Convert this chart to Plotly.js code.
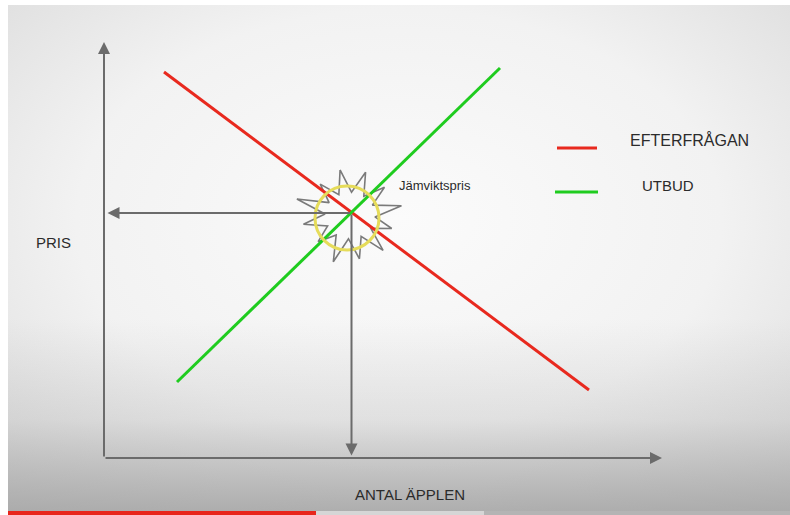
<!DOCTYPE html>
<html>
<head>
<meta charset="utf-8">
<script src="https://cdn.plot.ly/plotly-3.0.1.min.js"></script>
<style>html,body{margin:0;padding:0;background:#fff;}#chart{width:790px;height:515px;}</style>
</head>
<body>
<div id="chart"></div>
<script>
// ---- data (chart units: quantity on x, price on y) ----
var demandQty = [1.2, 9.7];
var demandPrice = [7.72, 1.36];
var supplyQty = [1.46, 7.92];
var supplyPrice = [1.52, 7.8];
var eqQty = 4.95;
var eqPrice = 4.9;
var axisMaxQty = 11.16;
var axisMaxPrice = 8.32;
var seriesNames = ["EFTERFRÅGAN", "UTBUD"];
var xTitle = "ANTAL ÄPPLEN";
var yTitle = "PRIS";
var eqLabel = "Jämviktspris";

var RED = "#e8291e", GREEN = "#1fcc1f", AX = "#6b6b6b", TXT = "#2b2b2b";

// starburst outline around the equilibrium (decorative)
var starR = [1.0, 0.9, 1.12, 0.95, 0.85, 1.05, 0.95, 1.0, 0.88, 1.05, 0.92, 0.98];
var starX = [], starY = [];
var cx = 4.92, cy = 4.85, n = starR.length;
for (var i = 0; i <= 2 * n; i++) {
  var k = i % (2 * n);
  var ang = Math.PI / 2 + 0.2 + k * Math.PI / n;
  var r = (k % 2 === 0) ? starR[k / 2] : 0.5;
  starX.push(cx + r * Math.cos(ang));
  starY.push(cy + r * Math.sin(ang) * 0.93);
}

var traces = [
  {x: starX, y: starY, mode: "lines", line: {color: "#7a7a7a", width: 1.6}, hoverinfo: "skip", showlegend: false},
  {x: demandQty, y: demandPrice, mode: "lines", name: seriesNames[0], line: {color: RED, width: 3}, showlegend: false},
  {x: supplyQty, y: supplyPrice, mode: "lines", name: seriesNames[1], line: {color: GREEN, width: 3}, showlegend: false}
];

function arrow(hx, hy, tx, ty) {
  return {x: hx, y: hy, ax: tx, ay: ty, xref: "x", yref: "y", axref: "x", ayref: "y",
          text: "", showarrow: true, arrowhead: 2, arrowsize: 1.2, arrowwidth: 2, arrowcolor: AX};
}
function label(t, x, y, xanchor, size) {
  return {x: x, y: y, xref: "x", yref: "y", text: t, showarrow: false, xanchor: xanchor, yanchor: "middle",
          font: {family: "Liberation Sans, Arial, sans-serif", size: size, color: TXT}};
}

var bgSvg = '<svg xmlns="http://www.w3.org/2000/svg" width="790" height="515">' +
  '<defs><radialGradient id="r" cx="0.5" cy="0.42" r="0.75">' +
  '<stop offset="0" stop-color="#fbfbfb"/><stop offset="0.55" stop-color="#f2f2f2"/><stop offset="1" stop-color="#dadada"/></radialGradient>' +
  '<linearGradient id="b" x1="0" y1="0" x2="0" y2="1">' +
  '<stop offset="0" stop-color="#a0a0a0" stop-opacity="0"/><stop offset="0.62" stop-color="#a0a0a0" stop-opacity="0"/>' +
  '<stop offset="0.82" stop-color="#a0a0a0" stop-opacity="0.22"/>' +
  '<stop offset="1" stop-color="#a0a0a0" stop-opacity="0.8"/></linearGradient></defs>' +
  '<rect width="790" height="515" fill="#ffffff"/>' +
  '<rect x="8" y="5" width="782" height="510" fill="url(#r)"/>' +
  '<rect x="8" y="5" width="782" height="506" fill="url(#b)"/>' +
  '</svg>';

var layout = {
  width: 790, height: 515,
  margin: {l: 0, r: 0, t: 0, b: 0},
  paper_bgcolor: "#ffffff",
  plot_bgcolor: "rgba(0,0,0,0)",
  showlegend: false,
  xaxis: {range: [-2.08, 13.72], visible: false, fixedrange: true},
  yaxis: {range: [-1.14, 9.16], visible: false, fixedrange: true},
  images: [{source: "data:image/svg+xml;charset=utf-8," + encodeURIComponent(bgSvg),
            xref: "paper", yref: "paper", x: 0, y: 1, sizex: 1, sizey: 1,
            sizing: "stretch", xanchor: "left", yanchor: "top", layer: "below"}],
  shapes: [
    {type: "circle", xref: "x", yref: "y", x0: 4.22, x1: 5.5, y0: 4.16, y1: 5.44,
     line: {color: "#e6dc5a", width: 3}},
    {type: "line", xref: "x", yref: "y", x0: 9.06, x1: 9.86, y0: 6.2, y1: 6.2, line: {color: RED, width: 3}},
    {type: "line", xref: "x", yref: "y", x0: 9.02, x1: 9.88, y0: 5.32, y1: 5.32, line: {color: GREEN, width: 3}},
    {type: "rect", xref: "paper", yref: "paper", x0: 8/790, x1: 316/790, y0: 0, y1: 4/515, fillcolor: "#e8261c", line: {width: 0}},
    {type: "rect", xref: "paper", yref: "paper", x0: 316/790, x1: 484/790, y0: 0, y1: 4/515, fillcolor: "#d6d6d6", line: {width: 0}},
    {type: "rect", xref: "paper", yref: "paper", x0: 484/790, x1: 1, y0: 0, y1: 4/515, fillcolor: "#b4b4b4", line: {width: 0}}
  ],
  annotations: [
    arrow(0, axisMaxPrice, 0, 0),
    arrow(axisMaxQty, 0, 0, 0),
    arrow(0.07, eqPrice, eqQty, eqPrice),
    arrow(eqQty, 0.05, eqQty, eqPrice),
    label(eqLabel, 5.86, 5.46, "left", 13),
    label(yTitle, -1.02, 4.32, "center", 15),
    label(xTitle, 6.12, -0.72, "center", 15),
    label(seriesNames[0], 10.48, 6.36, "left", 16),
    label(seriesNames[1], 10.72, 5.46, "left", 15)
  ]
};

Plotly.newPlot("chart", traces, layout, {staticPlot: true, displayModeBar: false});
</script>
</body>
</html>
